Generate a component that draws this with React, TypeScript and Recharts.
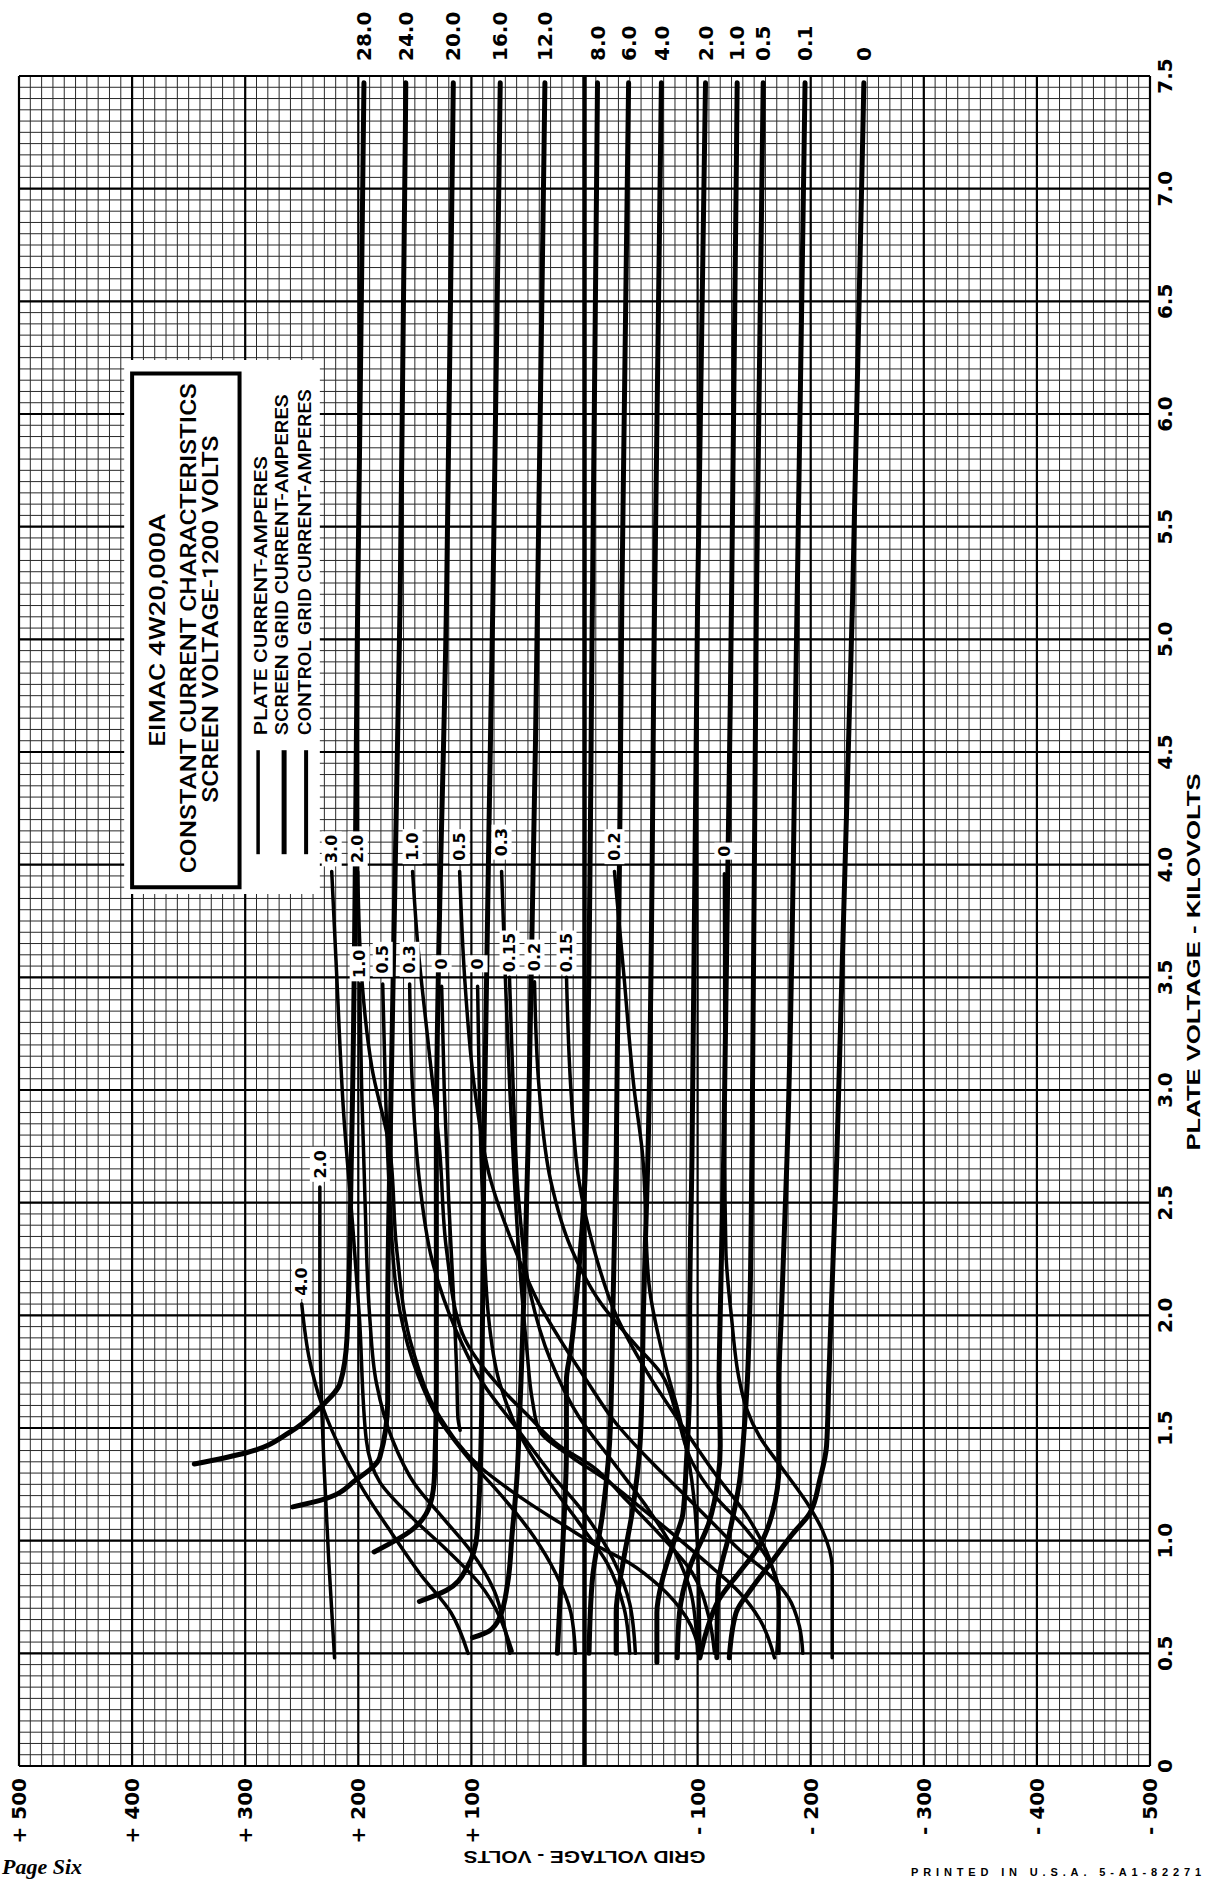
import React from "react";
import {
  LineChart, Line, XAxis, YAxis, CartesianGrid,
  ReferenceLine, ReferenceArea, ReferenceDot,
} from "recharts";

type Pt = [number, number]; // [grid volts, plate kilovolts]

// ---- plate current curves (amperes) ----
const plate28: Pt[] = [[195, 7.47], [200.5, 5.17], [206, 2.73], [210, 1.9], [216, 1.7], [234, 1.59], [261, 1.48], [299, 1.39], [345, 1.34]];
const plate24: Pt[] = [[158, 7.47], [163, 5.17], [172, 2.73], [174, 2.0], [174, 1.62], [181, 1.37], [202, 1.27], [233, 1.18], [258, 1.15]];
const plate20: Pt[] = [[116, 7.47], [122, 5.17], [131, 2.73], [131, 1.7], [132, 1.4], [133, 1.26], [138, 1.14], [152, 1.05], [186, 0.95]];
const plate16: Pt[] = [[74.5, 7.47], [81, 5.17], [89, 2.73], [91, 1.55], [95, 1.03], [104, 0.88], [122, 0.78], [146, 0.73]];
const plate12: Pt[] = [[35, 7.47], [41.5, 5.17], [50, 2.73], [57, 1.6], [60, 1.26], [64, 1.03], [68, 0.81], [75, 0.66], [84, 0.6], [99, 0.57]];
const plate8: Pt[] = [[-11.5, 7.47], [-7, 5.17], [-1, 2.69], [5, 2.2], [12, 1.85], [16, 1.71], [16, 1.4], [19, 1.0], [24, 0.5]];
const plate6: Pt[] = [[-39, 7.47], [-33, 5.17], [-28, 2.69], [-25, 2.0], [-24, 1.71], [-22, 1.42], [-16, 1.12], [-7, 0.83], [-4, 0.5]];
const plate4: Pt[] = [[-68, 7.47], [-62, 5.17], [-56, 2.69], [-52, 2.0], [-51, 1.71], [-49, 1.42], [-42, 1.12], [-34, 0.9], [-28, 0.68], [-28, 0.5]];
const plate2: Pt[] = [[-107, 7.47], [-100, 5.17], [-95, 2.69], [-93, 2.0], [-93, 1.71], [-90, 1.34], [-87, 1.12], [-78, 0.98], [-69, 0.83], [-64, 0.68], [-64, 0.46]];
const plate1: Pt[] = [[-135, 7.47], [-130, 5.17], [-123, 2.69], [-120, 2.0], [-119, 1.71], [-120, 1.42], [-118, 1.27], [-110, 1.08], [-93, 0.88], [-84, 0.68], [-82, 0.48]];
const plate05: Pt[] = [[-158, 7.47], [-152, 5.17], [-148, 2.69], [-146, 2.0], [-144, 1.71], [-141, 1.48], [-137, 1.26], [-128, 1.03], [-118, 0.8], [-117, 0.48]];
const plate01: Pt[] = [[-195, 7.47], [-188, 5.17], [-179, 2.69], [-174, 2.0], [-172, 1.71], [-172, 1.34], [-166, 1.12], [-155, 0.98], [-137, 0.86], [-119, 0.74], [-108, 0.6], [-102, 0.48]];
const plate0: Pt[] = [[-247, 7.47], [-237, 5.17], [-223, 2.69], [-218, 2.0], [-216, 1.71], [-214, 1.42], [-208, 1.27], [-199, 1.12], [-184, 1.03], [-166, 0.91], [-148, 0.79], [-134, 0.68], [-128, 0.48]];

// ---- grid current curves, first label row ----
const gridA30: Pt[] = [[223.5, 3.97], [219, 3.5], [213, 2.9], [205, 2.4], [199, 1.99], [193, 1.45], [181, 1.26], [152, 1.1], [122, 0.96], [93, 0.81], [64, 0.51]];
const gridA20: Pt[] = [[200.5, 3.97], [197, 3.5], [188, 3.1], [172, 2.73], [166, 2.29], [152, 1.85], [128, 1.55], [93, 1.33], [50, 1.17], [22, 1.08], [-10, 0.98], [-40, 0.9], [-66, 0.8], [-90, 0.66], [-102, 0.5]];
const gridA10: Pt[] = [[152, 3.97], [148, 3.68], [138, 3.2], [128, 2.73], [122, 2.29], [108, 1.92], [78, 1.7], [49, 1.55], [22, 1.42], [-7, 1.33], [-37, 1.18], [-66, 1.03], [-95, 0.86], [-110, 0.66], [-115, 0.5]];
const gridA05: Pt[] = [[110.4, 3.97], [106, 3.5], [97, 3.0], [83, 2.6], [62, 2.3], [40, 2.05], [20, 1.88], [-2, 1.71], [-28, 1.52], [-57, 1.36], [-87, 1.21], [-117, 1.06], [-137, 0.96], [-161, 0.86], [-180, 0.75], [-190, 0.62], [-193, 0.5]];
const gridA03: Pt[] = [[73.3, 3.97], [70, 3.5], [66, 3.0], [62, 2.6], [57, 2.2], [51, 1.85], [46, 1.62], [40, 1.49], [11, 1.37], [-19, 1.27], [-49, 1.15], [-78, 1.03], [-113, 0.88], [-137, 0.77], [-155, 0.65], [-168, 0.48]];
const gridA02: Pt[] = [[-26.5, 3.97], [-35, 3.5], [-44, 3.0], [-51, 2.73], [-57, 2.14], [-72, 1.77], [-84, 1.55], [-93, 1.33], [-100, 0.96], [-102, 0.5]];
const gridA00: Pt[] = [[-123.7, 3.96], [-124, 3.3], [-124, 2.73], [-125, 2.29], [-130, 1.99], [-137, 1.71], [-143, 1.59], [-155, 1.46], [-172, 1.34], [-199, 1.15], [-210, 1.05], [-219, 0.88], [-219, 0.48]];

// ---- grid current curves, second label row ----
const gridB10: Pt[] = [[198.8, 3.47], [197, 3.0], [194, 2.5], [190, 2.0], [184, 1.7], [170, 1.45], [150, 1.25], [125, 1.1], [100, 0.95], [80, 0.78], [70, 0.6], [66, 0.5]];
const gridB05: Pt[] = [[178.4, 3.47], [176, 3.0], [172, 2.5], [166, 2.1], [152, 1.8], [130, 1.55], [100, 1.35], [70, 1.18], [45, 1.02], [25, 0.85], [12, 0.68], [8, 0.5]];
const gridB03: Pt[] = [[154.6, 3.47], [152, 3.0], [146, 2.6], [135, 2.25], [115, 1.95], [90, 1.7], [60, 1.5], [30, 1.3], [0, 1.12], [-25, 0.92], [-40, 0.72], [-45, 0.5]];
const gridB00a: Pt[] = [[126.3, 3.46], [124, 3.0], [120, 2.5], [115, 2.0], [113, 1.75], [112, 1.55], [110, 1.49]];
const gridB00b: Pt[] = [[94.5, 3.46], [93, 3.0], [90, 2.5], [85, 2.0], [75, 1.7], [55, 1.45], [30, 1.25], [5, 1.08], [-20, 0.9], [-35, 0.7], [-40, 0.5]];
const gridB015a: Pt[] = [[66.3, 3.5], [63, 3.0], [58, 2.5], [48, 2.1], [30, 1.8], [5, 1.55], [-25, 1.35], [-55, 1.15], [-80, 0.95], [-95, 0.75], [-100, 0.5]];
const gridB02: Pt[] = [[44.2, 3.48], [40, 3.0], [30, 2.6], [12, 2.3], [-15, 2.05], [-45, 1.87], [-68, 1.74], [-82, 1.55], [-95, 1.35], [-115, 1.2], [-143, 1.05], [-166, 0.88], [-172, 0.77], [-172, 0.5]];
const gridB015b: Pt[] = [[15.9, 3.5], [12, 3.0], [5, 2.6], [-8, 2.3], [-28, 2.0], [-55, 1.75], [-85, 1.52], [-115, 1.3], [-145, 1.1], [-165, 0.9], [-172, 0.7], [-170, 0.5]];

// ---- lower left grid curves ----
const gridC40: Pt[] = [[250, 2.05], [243, 1.8], [232, 1.6], [215, 1.4], [195, 1.22], [170, 1.03], [145, 0.85], [118, 0.68], [103, 0.5]];
const gridC20: Pt[] = [[234, 2.57], [234, 2.0], [233, 1.7], [230, 1.3], [226, 0.9], [221, 0.48]];

const plateSeries = [
  { label: "28.0", pts: plate28 }, { label: "24.0", pts: plate24 }, { label: "20.0", pts: plate20 },
  { label: "16.0", pts: plate16 }, { label: "12.0", pts: plate12 }, { label: "8.0", pts: plate8 },
  { label: "6.0", pts: plate6 }, { label: "4.0", pts: plate4 }, { label: "2.0", pts: plate2 },
  { label: "1.0", pts: plate1 }, { label: "0.5", pts: plate05 }, { label: "0.1", pts: plate01 },
  { label: "0", pts: plate0 },
];

const gridSeries = [
  { label: "3.0", pts: gridA30, at: [223.5, 4.07] }, { label: "2.0", pts: gridA20, at: [200.5, 4.07] },
  { label: "1.0", pts: gridA10, at: [152, 4.08] }, { label: "0.5", pts: gridA05, at: [110.4, 4.08] },
  { label: "0.3", pts: gridA03, at: [73.3, 4.1] }, { label: "0.2", pts: gridA02, at: [-26.5, 4.08] },
  { label: "0", pts: gridA00, at: [-123.7, 4.06] },
  { label: "1.0", pts: gridB10, at: [198.8, 3.56] }, { label: "0.5", pts: gridB05, at: [178.4, 3.58] },
  { label: "0.3", pts: gridB03, at: [154.6, 3.58] }, { label: "0", pts: gridB00a, at: [126.3, 3.56] },
  { label: "0", pts: gridB00b, at: [94.5, 3.56] }, { label: "0.15", pts: gridB015a, at: [66.3, 3.61] },
  { label: "0.2", pts: gridB02, at: [44.2, 3.59] }, { label: "0.15", pts: gridB015b, at: [15.9, 3.61] },
  { label: "4.0", pts: gridC40, at: [250, 2.15] }, { label: "2.0", pts: gridC20, at: [234, 2.67] },
];

// ---- axes ----
const majorVg = [500, 400, 300, 200, 100, 0, -100, -200, -300, -400, -500];
const majorKv = [0, 0.5, 1, 1.5, 2, 2.5, 3, 3.5, 4, 4.5, 5, 5.5, 6, 6.5, 7, 7.5];
const minorVg = Array.from({ length: 101 }, (_, i) => 500 - i * 10);
const minorKv = Array.from({ length: 151 }, (_, i) => (i * 5) / 100);

const legendItems = ["PLATE CURRENT-AMPERES", "SCREEN GRID CURRENT-AMPERES", "CONTROL GRID CURRENT-AMPERES"];
const titleLines = ["EIMAC 4W20,000A", "CONSTANT CURRENT CHARACTERISTICS", "SCREEN VOLTAGE-1200 VOLTS"];

const rows = (pts: Pt[]) => pts.map(([vg, kv]) => ({ vg, kv }));

const NUM = "'DejaVu Sans', sans-serif";
const SANS = "'Liberation Sans', Arial, sans-serif";
const LEG = "Roboto, 'Liberation Sans', sans-serif";

function XTick({ x, y, payload }: any) {
  const v = payload.value;
  if (v % 100 !== 0 || v === 0) return <g />;
  const txt = v > 0 ? `+ ${v}` : `- ${-v}`;
  return (
    <text x={x} y={y + 12} dy="0.36em" textAnchor="end" transform={`rotate(-90 ${x} ${y + 12})`}
      fontFamily={NUM} fontWeight="bold" fontSize={20} fill="#000">{txt}</text>
  );
}

function YTick({ x, y, payload }: any) {
  const v = payload.value;
  if (Math.round(v * 100) % 50 !== 0) return <g />;
  const txt = v === 0 ? "0" : v.toFixed(1);
  const bx = x + 22;
  return (
    <text x={bx} y={y} textAnchor="middle" transform={`rotate(-90 ${bx} ${y})`}
      fontFamily={NUM} fontWeight="bold" fontSize={20} fill="#000">{txt}</text>
  );
}

function TopLabel({ cx, cy, text }: any) {
  const ty = cy - 15;
  return (
    <text x={cx} y={ty} dy="0.36em" textAnchor="start" transform={`rotate(-90 ${cx} ${ty})`}
      fontFamily={NUM} fontWeight="bold" fontSize={20} fill="#000">{text}</text>
  );
}

function BoxLabel({ cx, cy, text }: any) {
  const len = text.length * 9 + 2;
  return (
    <g>
      <rect x={cx - 10} y={cy - len / 2 - 3} width={20} height={len + 6} fill="#fff" />
      <text x={cx} y={cy} dy="0.36em" textAnchor="middle" transform={`rotate(-90 ${cx} ${cy})`}
        fontFamily={NUM} fontWeight="bold" fontSize={16} fill="#000">{text}</text>
    </g>
  );
}

function LegendBlock({ cx, cy }: any) {
  const title = [
    { dx: 33, dy: -257, len: 233 },
    { dx: 64, dy: -259, len: 490 },
    { dx: 86, dy: -268, len: 367 },
  ];
  const items = [
    { dx: 135, len: 279, lx: 126, w: 3.5 },
    { dx: 156, len: 341, lx: 152, w: 5 },
    { dx: 179, len: 346, lx: 174, w: 4 },
  ];
  return (
    <g>
      {titleLines.map((t, i) => {
        const tx = cx + title[i].dx, ty = cy + title[i].dy;
        return (
          <text key={t} x={tx} y={ty} textAnchor="middle" transform={`rotate(-90 ${tx} ${ty})`}
            fontFamily={LEG} fontWeight={500} fontSize={22} fill="#000" textLength={title[i].len}
            lengthAdjust="spacingAndGlyphs">{t}</text>
        );
      })}
      {legendItems.map((t, i) => {
        const tx = cx + items[i].dx, ty = cy - 152;
        return (
          <g key={t}>
            <text x={tx} y={ty} textAnchor="start" transform={`rotate(-90 ${tx} ${ty})`}
              fontFamily={LEG} fontWeight={500} fontSize={18} fill="#000" textLength={items[i].len}
              lengthAdjust="spacingAndGlyphs">{t}</text>
            <line x1={cx + items[i].lx} x2={cx + items[i].lx} y1={cy - 137} y2={cy - 33}
              stroke="#000" strokeWidth={items[i].w} />
          </g>
        );
      })}
    </g>
  );
}

export default function App() {
  return (
    <div style={{ position: "absolute", left: 0, top: 0, width: 1207, height: 1880, overflow: "hidden", background: "#fff" }}>
      <LineChart width={1207} height={1880} margin={{ top: 76, right: 7, bottom: 14, left: 19 }}
        style={{ position: "absolute", left: 0, top: 0 }}>
        <CartesianGrid stroke="#2a2a2a" strokeWidth={1} />
        <XAxis type="number" dataKey="vg" domain={[-500, 500]} reversed allowDataOverflow
          ticks={minorVg} interval={0} tickLine={false} axisLine={false} tickSize={0} tickMargin={0}
          height={100} tick={(p: any) => <XTick {...p} />}
          label={{
            content: ({ viewBox }: any) => {
              const cx = viewBox.x + viewBox.width / 2, cy = viewBox.y + 91;
              return (
                <text x={cx} y={cy} dy="0.36em" textAnchor="middle" transform={`rotate(180 ${cx} ${cy})`}
                  fontFamily={SANS} fontWeight="bold" fontSize={17} fill="#000"
                  textLength={242} lengthAdjust="spacingAndGlyphs">GRID VOLTAGE - VOLTS</text>
              );
            },
          }} />
        <YAxis type="number" orientation="right" domain={[0, 7.5]} allowDataOverflow
          ticks={minorKv} interval={0} tickLine={false} axisLine={false} tickSize={0} tickMargin={0}
          width={50} tick={(p: any) => <YTick {...p} />}
          label={{
            content: ({ viewBox }: any) => {
              const cx = viewBox.x + 50, cy = 962;
              return (
                <text x={cx} y={cy} textAnchor="middle" transform={`rotate(-90 ${cx} ${cy})`}
                  fontFamily={SANS} fontWeight="bold" fontSize={18} fill="#000"
                  textLength={377} lengthAdjust="spacingAndGlyphs">PLATE VOLTAGE - KILOVOLTS</text>
              );
            },
          }} />

        {majorVg.map((v) => (
          <ReferenceLine key={`mx${v}`} x={v} stroke="#000" strokeWidth={v === 0 ? 4.5 : 2.2} zIndex={-90} />
        ))}
        {majorKv.map((v) => (
          <ReferenceLine key={`my${v}`} y={v} stroke="#000" strokeWidth={2.2} zIndex={-90} />
        ))}

        <ReferenceArea x1={407} x2={234} y1={3.87} y2={6.24} fill="#fff" fillOpacity={1} stroke="none" zIndex={-50} />
        <ReferenceArea x1={400} x2={305} y1={3.9} y2={6.18} fill="none" stroke="#000" strokeWidth={4} zIndex={-40} />

        {gridSeries.map((s, i) => (
          <Line key={`g${i}`} data={rows(s.pts)} dataKey="kv" type="monotoneY" stroke="#000"
            strokeWidth={3.5} strokeLinecap="round" dot={false} activeDot={false} isAnimationActive={false} />
        ))}
        {plateSeries.map((s) => (
          <Line key={`p${s.label}`} data={rows(s.pts)} dataKey="kv" type="monotoneY" stroke="#000"
            strokeWidth={5} strokeLinecap="round" dot={false} activeDot={false} isAnimationActive={false} />
        ))}

        {plateSeries.map((s) => (
          <ReferenceDot key={`pl${s.label}`} x={s.pts[0][0]} y={7.5} r={0} ifOverflow="visible" zIndex={2000}
            shape={(p: any) => <TopLabel {...p} text={s.label} />} />
        ))}
        {gridSeries.map((s, i) => (
          <ReferenceDot key={`gl${i}`} x={s.at[0]} y={s.at[1]} r={0} zIndex={2000}
            shape={(p: any) => <BoxLabel {...p} text={s.label} />} />
        ))}
        <ReferenceDot x={400} y={3.9} r={0} zIndex={2000} shape={(p: any) => <LegendBlock {...p} />} />
      </LineChart>

      <svg width={1207} height={1880} style={{ position: "absolute", left: 0, top: 0, pointerEvents: "none" }}>
        <text x={2} y={1874} fontFamily="'Liberation Serif', serif" fontStyle="italic" fontWeight="bold"
          fontSize={22} fill="#000">Page Six</text>
        <text x={911} y={1876} fontFamily={SANS} fontWeight="bold" fontSize={11} fill="#000"
          textLength={290} lengthAdjust="spacing">PRINTED IN U.S.A. 5-A1-82271</text>
      </svg>
    </div>
  );
}
